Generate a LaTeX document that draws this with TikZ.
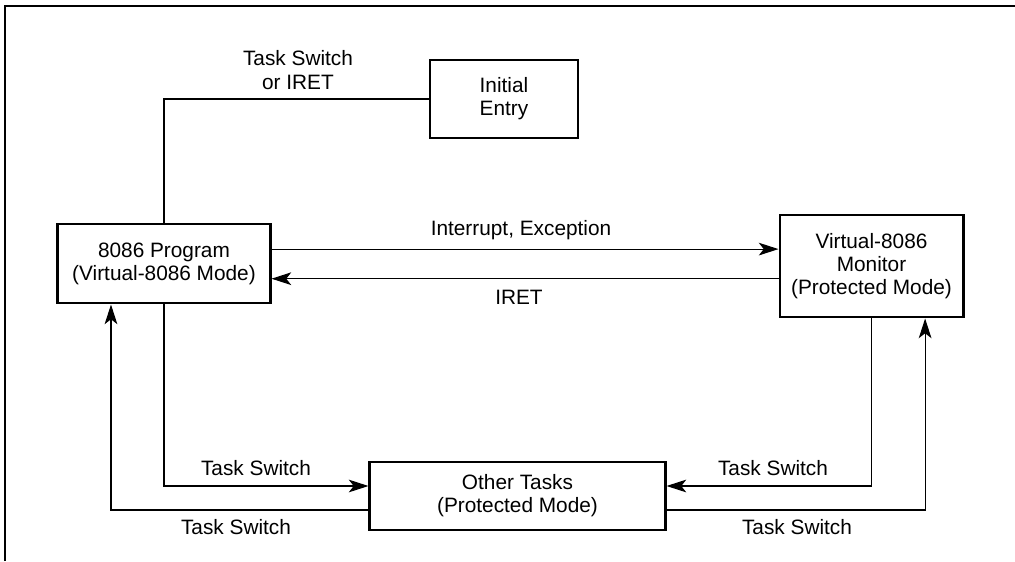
\documentclass[tikz,border=0pt]{standalone}
\usepackage{fontspec}
\setmainfont{Liberation Sans}
\usepackage{tikz}
\usetikzlibrary{arrows.meta, positioning, calc}

\tikzset{
    modebox/.style={draw, line width=2.1pt, align=center, inner sep=2pt, font=\fontsize{14.8}{16.5}\selectfont},
    lbl/.style={align=center, inner sep=1pt, font=\fontsize{14.8}{16.5}\selectfont},
    link/.style={line width=0.8pt},
    arr/.style={link, -{Stealth[length=14pt, width=9pt, inset=3.5pt]}},
}

\begin{document}
\begin{tikzpicture}[x=0.025cm, y=-0.025cm]
    \useasboundingbox (0,0) rectangle (1015,561);
    % outer frame
    \draw[line width=1.6pt] (5,561) -- (5,6) -- (1015,6);

    % boxes
    \node[modebox, minimum width=3.7cm, minimum height=1.95cm] (entry) at (504,99) {Initial\\Entry};
    \node[modebox, minimum width=5.3cm, minimum height=1.975cm] (prog) at (164,263.5) {8086 Program\\(Virtual-8086 Mode)};
    \node[modebox, minimum width=4.575cm, minimum height=2.55cm] (monitor) at (871.5,266) {Virtual-8086\\Monitor\\(Protected Mode)};
    \node[modebox, minimum width=7.375cm, minimum height=1.7cm] (other) at (517.5,496) {Other Tasks\\(Protected Mode)};

    % helper points
    \coordinate (intA) at ([yshift=0.36cm]prog.east);
    \coordinate (iretA) at ([yshift=-0.38cm]prog.east);
    \coordinate (otherNW) at ([yshift=0.25cm]other.west);
    \coordinate (otherSW) at ([yshift=-0.35cm]other.west);
    \coordinate (otherNE) at ([yshift=0.25cm]other.east);
    \coordinate (otherSE) at ([yshift=-0.35cm]other.east);
    \coordinate (progIn) at ([xshift=-1.325cm]prog.south);
    \coordinate (monIn) at ([xshift=1.34cm]monitor.south);

    % connectors
    \draw[link] (entry.west) -| (prog.north);
    \draw[arr] (intA) -- (intA -| monitor.west);
    \draw[arr] (iretA -| monitor.west) -- (iretA);
    \draw[arr] (prog.south) |- (otherNW);
    \draw[arr] (otherSW) -| (progIn);
    \draw[arr] (monitor.south) |- (otherNE);
    \draw[arr] (otherSE) -| (monIn);

    % labels
    \node[lbl] (lblEntry) at (298,70) {Task Switch\\or IRET};
    \node[lbl] (lblInt) at (521,230) {Interrupt, Exception};
    \node[lbl] (lblIret) at (519,297) {IRET};
    \node[lbl] (lblTsA) at (256,468) {Task Switch};
    \node[lbl] (lblTsB) at (236,527) {Task Switch};
    \node[lbl] (lblTsC) at (773,468) {Task Switch};
    \node[lbl] (lblTsD) at (797,527) {Task Switch};
\end{tikzpicture}
\end{document}
